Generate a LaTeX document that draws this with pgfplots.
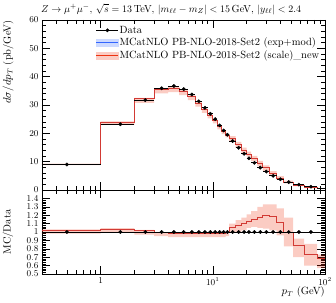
\documentclass[border=0pt]{standalone}
\usepackage{pgfplots}
\pgfplotsset{compat=1.18}
\usepackage{pgfplotstable}
\definecolor{mcred}{HTML}{EE3311}
\definecolor{mcblue}{HTML}{3366FF}
\newcommand\lbl{\fontsize{10.5}{12}\selectfont}
\newcommand\ttl{\fontsize{10.3}{12}\selectfont}

% Data: bin centres and values
\pgfplotstableread{
x     y
0.5   9.0
1.5   23.2
2.5   31.7
3.5   35.9
4.5   36.7
5.5   35.6
6.5   33.7
7.5   31.3
8.5   29.0
9.5   26.9
10.5  25.0
11.5  22.8
12.5  21.0
13.5  19.5
15    17.3
17    14.9
19    12.8
21    11.2
23.5  9.6
26.5  7.9
30    6.5
34.5  5.0
40    3.8
47.5  2.8
58.5  1.9
75    1.15
}\datatab

% Data: left bin edges and values (horizontal bin-width bars)
\pgfplotstableread{
e     d
0.3   9.0
1     23.2
2     31.7
3     35.9
4     36.7
5     35.6
6     33.7
7     31.3
8     29.0
9     26.9
10    25.0
11    22.8
12    21.0
13    19.5
14    17.3
16    14.9
18    12.8
20    11.2
22    9.6
25    7.9
28    6.5
32    5.0
37    3.8
43    2.8
52    1.9
65    1.15
85    0.6
120   0.6
}\dataedge

% MC main panel: left bin edge, values
\pgfplotstableread{
e     mc     blue
0.3   9.135  9.135
1     23.78  24.00
2     32.18  32.18
3     35.54  35.54
4     35.97  35.97
5     34.89  34.89
6     33.03  33.03
7     30.67  30.67
8     28.42  28.42
9     26.36  26.36
10    24.50  24.50
11    22.34  22.34
12    20.58  20.58
13    19.31  19.31
14    18.17  18.17
16    16.09  16.09
18    14.08  14.08
20    12.66  12.66
22    11.04  11.04
25    9.24   9.24
28    7.80   7.80
32    5.90   5.90
37    4.22   4.22
43    2.80   2.80
52    1.60   1.60
65    0.84   0.84
85    0.41   0.41
120   0.41   0.41
}\mctab

% scale band outline, main panel (upper edge left to right, lower edge right to left)
\pgfplotstableread{
x     y
0.3   9.27
1     24.24
2     32.49
3     35.90
4     36.52
5     35.24
6     33.36
7     30.99
8     28.71
9     26.63
10    24.75
11    22.57
12    20.79
13    19.50
14    19.03
16    16.99
18    14.98
20    13.55
22    12.00
25    10.27
28    8.65
32    6.65
37    4.86
43    3.28
52    1.75
65    0.99
85    0.44
120   0.44
120   0.34
85    0.69
65    1.33
52    2.32
43    3.65
37    5.10
32    6.76
28    8.30
25    10.18
22    11.76
20    13.06
18    14.90
16    17.13
14    18.53
13    19.74
12    21.43
11    23.50
10    25.29
9     27.26
8     29.42
7     31.68
6     33.46
5     34.50
4     34.11
3     30.75
2     22.97
1     8.82
0.3   8.82
}\bandmain

% MC/Data ratio panel
\pgfplotstableread{
e     r      rb
0.3   1.015  1.015
1     1.025  1.035
2     1.015  1.015
3     0.99   0.99
4     0.98   0.98
5     0.98   0.98
6     0.98   0.98
7     0.98   0.98
8     0.98   0.98
9     0.98   0.98
10    0.98   0.98
11    0.98   0.98
12    0.98   0.98
13    0.99   0.99
14    1.05   1.05
16    1.08   1.08
18    1.10   1.10
20    1.13   1.13
22    1.15   1.15
25    1.17   1.17
28    1.20   1.20
32    1.18   1.18
37    1.11   1.11
43    1.00   1.00
52    0.84   0.84
65    0.73   0.73
85    0.68   0.68
120   0.68   0.68
}\ratiotab

% scale band outline, ratio panel
\pgfplotstableread{
x     y
0.3   1.03
1     1.045
2     1.025
3     1.00
4     0.995
5     0.99
6     0.99
7     0.99
8     0.99
9     0.99
10    0.99
11    0.99
12    0.99
13    1.00
14    1.10
16    1.14
18    1.17
20    1.21
22    1.25
25    1.30
28    1.33
32    1.33
37    1.28
43    1.17
52    0.92
65    0.86
85    0.73
120   0.73
120   0.57
85    0.60
65    0.70
52    0.83
43    0.96
37    1.02
32    1.04
28    1.05
25    1.06
22    1.05
20    1.02
18    1.00
16    0.99
14    0.95
13    0.94
12    0.94
11    0.94
10    0.94
9     0.94
8     0.94
7     0.94
6     0.94
5     0.94
4     0.95
3     0.97
2     0.99
1     0.98
0.3   0.98
}\bandratio

% Data ratio points (all at 1)
\pgfplotstableread{
x     y
0.5   1
1.5   1
2.5   1
3.5   1
4.5   1
5.5   1
6.5   1
7.5   1
8.5   1
9.5   1
10.5  1
11.5  1
12.5  1
13.5  1
15    1
17    1
19    1
21    1
23.5  1
26.5  1
30    1
34.5  1
40    1
47.5  1
58.5  1
75    1
}\dataratio

\begin{document}
\begin{tikzpicture}
\useasboundingbox (-42bp,-113bp) rectangle (294bp,190bp);

\begin{axis}[scale only axis, width=283bp,
  xmode=log, xmin=0.3, xmax=100,
  xtick={1,10,100},
  minor xtick={0.4,0.5,0.6,0.7,0.8,0.9,2,3,4,5,6,7,8,9,20,30,40,50,60,70,80,90},
  tick align=inside,
  major tick length=8bp, minor tick length=4bp,
  every tick/.style={black, line width=0.4pt},
  axis line style={line width=0.6pt},
  tick label style={font=\small},
  at={(0,0)}, anchor=south west, height=170bp,
  ymin=0, ymax=60, ytick={0,10,20,30,40,50,60}, minor y tick num=4,
  xticklabels={},
  title={$Z \rightarrow \mu^{+}\mu^{-}$, $\sqrt{s} = 13$\,TeV, $|m_{\ell\ell} - m_{Z}| < 15$\,GeV, $|y_{\ell\ell}| < 2.4$},
  title style={at={(0,1)}, anchor=south west, inner sep=0pt, yshift=-0.7bp, xshift=-1bp, font=\ttl},
  ylabel={$d\sigma/dp_{T}$ (pb/GeV)},
  ylabel style={at={(-0.12,1)}, anchor=east, inner sep=0pt, font=\lbl},
  legend style={at={(0.19,0.978)}, anchor=north west, draw=none, fill=none,
    font=\lbl, inner sep=0pt, nodes={inner sep=0.6pt, text height=8.5bp, text depth=3bp}},
  legend cell align=left,
]
\addplot[const plot, fill=mcred, fill opacity=0.25, draw=none, forget plot] table[x=x, y=y] {\bandmain};
\addplot[mcblue, line width=1pt, const plot, forget plot] table[x=e, y=blue] {\mctab};
\addplot[mcred, line width=1pt, const plot, opacity=0.85, forget plot] table[x=e, y=mc] {\mctab};
\addplot[black, line width=0.8pt, jump mark left, forget plot] table[x=e, y=d] {\dataedge};
\addplot[black, only marks, mark=*, mark size=1.7pt, forget plot] table[x=x, y=y] {\datatab};

\addlegendimage{legend image code/.code={\draw[black, line width=0.8pt] (0bp,0bp) -- (22bp,0bp); \fill[black] (11bp,0bp) circle[radius=1.7pt];}}
\addlegendentry{Data}
\addlegendimage{legend image code/.code={\fill[mcblue!25] (0bp,-3.5bp) rectangle (22bp,3.5bp); \draw[mcblue, line width=1pt] (0bp,0bp) -- (22bp,0bp);}}
\addlegendentry{MCatNLO PB-NLO-2018-Set2 (exp+mod)}
\addlegendimage{legend image code/.code={\fill[mcred!25] (0bp,-3.5bp) rectangle (22bp,3.5bp); \draw[mcred, line width=1pt] (0bp,0bp) -- (22bp,0bp);}}
\addlegendentry{MCatNLO PB-NLO-2018-Set2 (scale)\_new}
\end{axis}

\begin{axis}[scale only axis, width=283bp,
  xmode=log, xmin=0.3, xmax=100,
  xtick={1,10,100},
  minor xtick={0.4,0.5,0.6,0.7,0.8,0.9,2,3,4,5,6,7,8,9,20,30,40,50,60,70,80,90},
  tick align=inside,
  major tick length=8bp, minor tick length=4bp,
  every tick/.style={black, line width=0.4pt},
  axis line style={line width=0.6pt},
  tick label style={font=\small},
  at={(0,0)}, anchor=north west, height=84bp,
  ymin=0.5, ymax=1.5, ytick={0.5,0.6,0.7,0.8,0.9,1,1.1,1.2,1.3,1.4}, minor y tick num=4,
  xticklabels={$1$,$10^{1}$,$10^{2}$},
  xlabel={$p_{T}$ (GeV)},
  xlabel style={at={(1,0)}, anchor=east, inner sep=0pt, yshift=-18bp, font=\lbl},
  ylabel={MC/Data},
  ylabel style={at={(-0.12,0.5)}, anchor=center, inner sep=0pt, font=\lbl},
]
\addplot[const plot, fill=mcred, fill opacity=0.25, draw=none] table[x=x, y=y] {\bandratio};
\addplot[mcblue, line width=1pt, const plot] table[x=e, y=rb] {\ratiotab};
\addplot[mcred, line width=1pt, const plot, opacity=0.85] table[x=e, y=r] {\ratiotab};
\addplot[black, line width=0.9pt] coordinates {(0.3,1) (120,1)};
\addplot[black, only marks, mark=*, mark size=1.7pt] table[x=x, y=y] {\dataratio};
\end{axis}
\end{tikzpicture}
\end{document}
